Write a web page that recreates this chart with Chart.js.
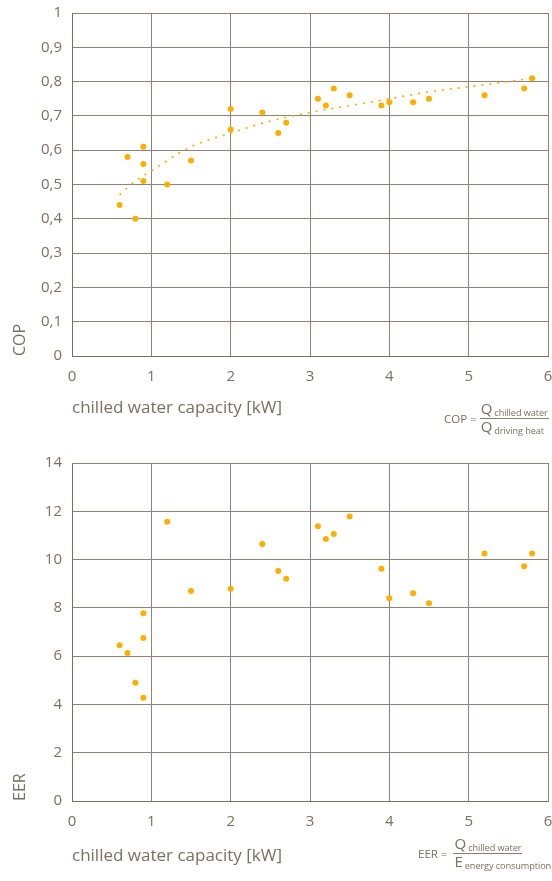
<!DOCTYPE html>
<html>
<head>
<meta charset="utf-8">
<script src="https://cdn.jsdelivr.net/npm/chart.js@4.4.1/dist/chart.umd.min.js"></script>
<style>
  html, body { margin: 0; padding: 0; background: #fff; }
  #wrap { position: relative; width: 552px; height: 881px; overflow: hidden; font-family: "Open Sans", sans-serif; color: #7b6f61; }
  .box { position: absolute; left: 0; width: 552px; }
  .formula { position: absolute; display: flex; align-items: center; font-size: 11.5px; white-space: nowrap; }
  .frac { display: inline-flex; flex-direction: column; align-items: flex-start; margin-left: 3px; }
  .frac .num { border-bottom: 1px solid #8a7e70; padding: 0 1px; line-height: 15px; }
  .frac .den { padding: 0 1px; line-height: 15px; }
  .q { font-size: 15px; }
  .sub { font-size: 9.2px; margin-left: 2px; position: relative; top: 2px; letter-spacing: -0.1px; }
</style>
</head>
<body>
<div id="wrap">
  <div class="box" style="top:0;height:440px"><canvas id="cop-chart"></canvas></div>
  <div class="box" style="top:440px;height:441px"><canvas id="eer-chart"></canvas></div>

  <div class="formula" style="left:444px;top:401px">
    <span>COP =</span>
    <span class="frac">
      <span class="num"><span class="q">Q</span><span class="sub">chilled water</span></span>
      <span class="den"><span class="q">Q</span><span class="sub">driving heat</span></span>
    </span>
  </div>
  <div class="formula" style="left:418px;top:836px">
    <span>EER =</span>
    <span class="frac" style="margin-left:6px">
      <span class="num"><span class="q">Q</span><span class="sub">chilled water</span></span>
      <span class="den"><span class="q">E</span><span class="sub">energy consumption</span></span>
    </span>
  </div>
</div>

<script>
// measured points (chilled water capacity in kW)
const copCapacity = [0.6, 0.7, 0.8, 0.9, 0.9, 0.9, 1.2, 1.5, 2.0, 2.0, 2.4, 2.6, 2.7, 3.1, 3.2, 3.3, 3.5, 3.9, 4.0, 4.3, 4.5, 5.2, 5.7, 5.8];
const copValues   = [0.44, 0.58, 0.40, 0.61, 0.56, 0.51, 0.50, 0.57, 0.72, 0.66, 0.71, 0.65, 0.68, 0.75, 0.73, 0.78, 0.76, 0.73, 0.74, 0.74, 0.75, 0.76, 0.78, 0.81];

// dotted trend line
const trendCapacity = [0.6, 0.8, 1.0, 1.5, 2.0, 2.5, 3.0, 3.5, 4.0, 4.5, 5.0, 5.5, 5.8];
const trendValues   = [0.47, 0.51, 0.54, 0.61, 0.65, 0.685, 0.71, 0.73, 0.75, 0.77, 0.785, 0.80, 0.81];

const eerCapacity = [0.6, 0.7, 0.8, 0.9, 0.9, 0.9, 1.2, 1.5, 2.0, 2.4, 2.6, 2.7, 3.1, 3.2, 3.3, 3.5, 3.9, 4.0, 4.3, 4.5, 5.2, 5.7, 5.8];
const eerValues   = [6.45, 6.13, 4.90, 7.78, 6.75, 4.28, 11.57, 8.70, 8.79, 10.65, 9.53, 9.21, 11.38, 10.85, 11.06, 11.78, 9.62, 8.40, 8.60, 8.19, 10.25, 9.72, 10.25];

const xTicks = [0, 1, 2, 3, 4, 5, 6];

const TEXT = '#7b6f61';
const GRID = '#8d8275';
const DOT = '#fbb000';
const FONT = '"Open Sans", sans-serif';

function toPoints(xs, ys) {
  return xs.map((x, i) => ({ x: x, y: ys[i] }));
}

/**
 * shared axis setup for both panels
 */
function createChartOptions(yLabel, yMax, yStep, yFormat, xAxisHeight, xTitlePad, topPad) {
  return {
    responsive: true,
    maintainAspectRatio: false,
    animation: false,
    layout: { padding: { top: topPad, right: 4, left: 0, bottom: 0 } },
    plugins: { legend: { display: false }, tooltip: { enabled: false } },
    scales: {
      x: {
        type: 'linear',
        min: 0,
        max: 6,
        afterBuildTicks: scale => { scale.ticks = xTicks.map(v => ({ value: v })); },
        afterFit: scale => {
          scale.height = xAxisHeight;
          // tick padding should not push the plot edges inward
          scale.paddingLeft = 4;
          scale.paddingRight = 4;
        },
        ticks: { color: TEXT, padding: 12, font: { family: FONT, size: 15 } },
        grid: { color: GRID, lineWidth: 1, drawTicks: false },
        border: { color: '#7a6e60', width: 1 },
        title: {
          display: true,
          text: 'chilled water capacity [kW]',
          align: 'start',
          color: TEXT,
          font: { family: FONT, size: 17 },
          padding: { top: 0, bottom: xTitlePad }
        }
      },
      y: {
        min: 0,
        max: yMax,
        afterFit: scale => {
          scale.width = 72;
          scale.paddingTop = 8;
          scale.paddingBottom = 8;
        },
        ticks: {
          stepSize: yStep,
          color: TEXT,
          padding: 10,
          font: { family: FONT, size: 15 },
          callback: yFormat
        },
        grid: { color: GRID, lineWidth: 1, drawTicks: false },
        border: { color: '#7a6e60', width: 1 },
        title: {
          display: true,
          text: yLabel,
          align: 'start',
          color: TEXT,
          font: { family: FONT, size: 16 },
          padding: { top: 11, bottom: 0 }
        }
      }
    }
  };
}

function copFormat(value) {
  if (Math.abs(value) < 1e-9) return '0';
  if (Math.abs(value - 1) < 1e-9) return '1';
  return value.toFixed(1).replace('.', ',');
}

function eerFormat(value) {
  return Math.round(value).toString();
}

// --- COP chart ---
new Chart(document.getElementById('cop-chart').getContext('2d'), {
  type: 'scatter',
  data: {
    datasets: [
      {
        label: 'COP',
        data: toPoints(copCapacity, copValues),
        backgroundColor: DOT,
        borderColor: DOT,
        pointRadius: 3,
        pointBorderWidth: 0
      },
      {
        label: 'trend',
        type: 'line',
        data: toPoints(trendCapacity, trendValues),
        borderColor: '#f7ab00',
        borderWidth: 1.6,
        borderDash: [2, 6],
        cubicInterpolationMode: 'monotone',
        pointRadius: 0,
        fill: false
      }
    ]
  },
  options: createChartOptions('COP', 1, 0.1, copFormat, 84, 22, 13)
});

// --- EER chart ---
new Chart(document.getElementById('eer-chart').getContext('2d'), {
  type: 'scatter',
  data: {
    datasets: [{
      label: 'EER',
      data: toPoints(eerCapacity, eerValues),
      backgroundColor: DOT,
      borderColor: DOT,
      pointRadius: 3,
      pointBorderWidth: 0
    }]
  },
  options: createChartOptions('EER', 14, 2, eerFormat, 80, 15, 23)
});
</script>
</body>
</html>
